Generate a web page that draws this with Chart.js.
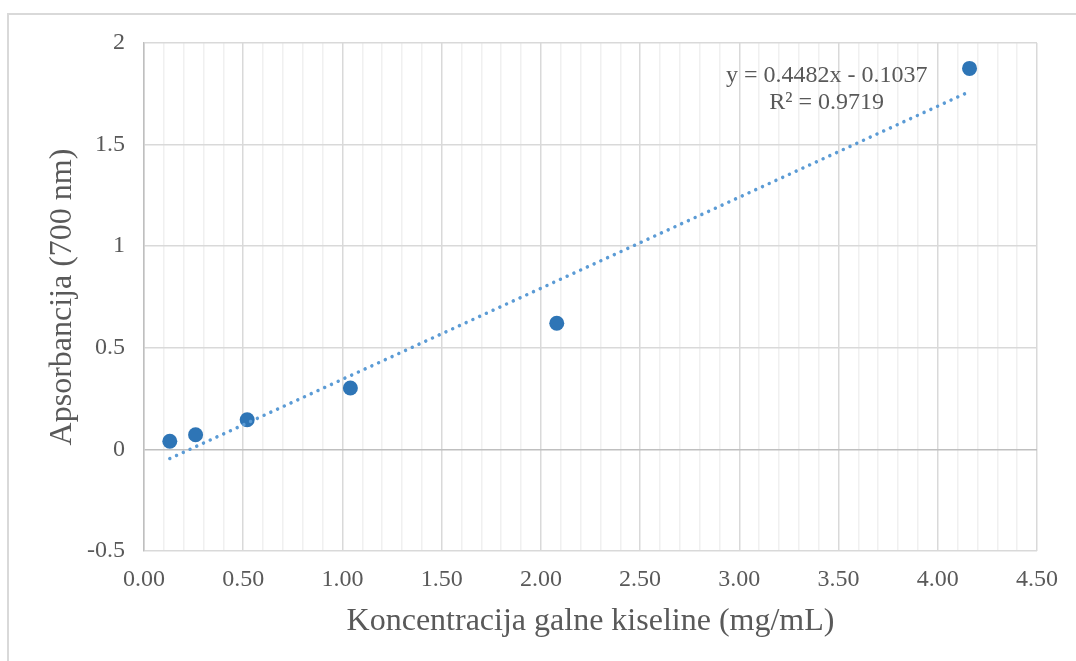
<!DOCTYPE html>
<html>
<head>
<meta charset="utf-8">
<script src="https://cdn.jsdelivr.net/npm/chart.js@4.4.1/dist/chart.umd.min.js"></script>
<style>
  html, body { margin: 0; padding: 0; background: #fff; overflow: hidden; }
  #wrap { position: relative; width: 1076px; height: 661px; }
  #frame { position: absolute; left: 7px; top: 13px; width: 1200px; height: 800px;
           border-left: 2px solid #d9d9d9; border-top: 2px solid #d9d9d9; box-sizing: border-box; }
  canvas { position: absolute; left: 0; top: 0; }
</style>
</head>
<body>
<div id="wrap">
  <div id="frame"></div>
  <canvas id="c" width="1076" height="661"></canvas>
</div>
<script>
// Data
const concentrations = [0.13, 0.26, 0.52, 1.04, 2.08, 4.16];
const absorbances   = [0.04, 0.072, 0.146, 0.302, 0.621, 1.875];
const trendX = [0.13, 4.16];
const trendY = [-0.045, 1.761];
const equationLines = ['y = 0.4482x - 0.1037', 'R\u00B2 = 0.9719'];
const equationAnchor = [3.44, 1.84];

const xTitle = 'Koncentracija galne kiseline (mg/mL)';
const yTitle = 'Apsorbancija (700 nm)';
const xMin = 0, xMax = 4.5, xMinorStep = 0.1, xMajorStep = 0.5;
const yMin = -0.5, yMax = 2, yStep = 0.5;

const TEXT = '#595959';
const SERIF = '"Liberation Serif", "Times New Roman", serif';

const isMajorX = v => Math.abs(v / xMajorStep - Math.round(v / xMajorStep)) < 1e-6;

const equationPlugin = {
  id: 'equation',
  afterDatasetsDraw(chart) {
    const {ctx, scales} = chart;
    const px = scales.x.getPixelForValue(equationAnchor[0]);
    const py = scales.y.getPixelForValue(equationAnchor[1]);
    ctx.save();
    ctx.fillStyle = TEXT;
    ctx.font = '24px ' + SERIF;
    ctx.textAlign = 'center';
    ctx.textBaseline = 'middle';
    equationLines.forEach((t, i) => ctx.fillText(t, px, py + i * 27));
    ctx.restore();
  }
};

new Chart(document.getElementById('c'), {
  type: 'scatter',
  data: {
    datasets: [
      {
        label: 'Linear',
        data: trendX.map((x, i) => ({x, y: trendY[i]})),
        showLine: true,
        borderColor: '#5B9BD5',
        borderWidth: 3.5,
        borderDash: [0.01, 7.4],
        borderCapStyle: 'round',
        pointRadius: 0,
        pointHoverRadius: 0,
        fill: false,
        order: 0
      },
      {
        label: 'Data',
        data: concentrations.map((x, i) => ({x, y: absorbances[i]})),
        backgroundColor: '#2E75B6',
        borderColor: '#2E75B6',
        borderWidth: 0,
        pointRadius: 7.5,
        pointHoverRadius: 7.5,
        order: 1
      }
    ]
  },
  options: {
    responsive: false,
    animation: false,
    devicePixelRatio: 1,
    layout: { padding: { top: 43, right: 39, left: 0, bottom: 0 } },
    plugins: { legend: { display: false }, tooltip: { enabled: false } },
    scales: {
      x: {
        type: 'linear',
        min: xMin, max: xMax,
        afterBuildTicks(scale) {
          const ticks = [];
          const n = Math.round((xMax - xMin) / xMinorStep);
          for (let i = 0; i <= n; i++) ticks.push({value: +(xMin + i * xMinorStep).toFixed(6)});
          scale.ticks = ticks;
        },
        afterFit(scale) { scale.height = 110; },
        ticks: {
          autoSkip: false, maxRotation: 0, minRotation: 0,
          padding: 14,
          color: TEXT,
          font: { family: SERIF, size: 24 },
          callback: v => isMajorX(v) ? v.toFixed(2) : ''
        },
        grid: {
          drawTicks: false,
          color: c => isMajorX(c.tick.value) ? '#d9d9d9' : '#f0f0f0',
          lineWidth: 1.5
        },
        border: { display: false },
        title: {
          display: true, text: xTitle, color: TEXT,
          font: { family: SERIF, size: 32 },
          padding: { top: 0, bottom: 20 }
        }
      },
      y: {
        type: 'linear',
        min: yMin, max: yMax,
        afterFit(scale) { scale.width = 144; },
        ticks: {
          stepSize: yStep,
          padding: 19,
          color: TEXT,
          font: { family: SERIF, size: 24 },
          callback: v => String(+v.toFixed(2))
        },
        grid: {
          drawTicks: false,
          color: c => c.tick.value === 0 ? '#bfbfbf' : '#d9d9d9',
          lineWidth: 1.5
        },
        border: { display: true, color: '#bfbfbf', width: 1.5 },
        title: {
          display: true, text: yTitle, color: TEXT,
          font: { family: SERIF, size: 32 },
          padding: { top: 43, bottom: 0 }
        }
      }
    }
  },
  plugins: [equationPlugin]
});
</script>
</body>
</html>
